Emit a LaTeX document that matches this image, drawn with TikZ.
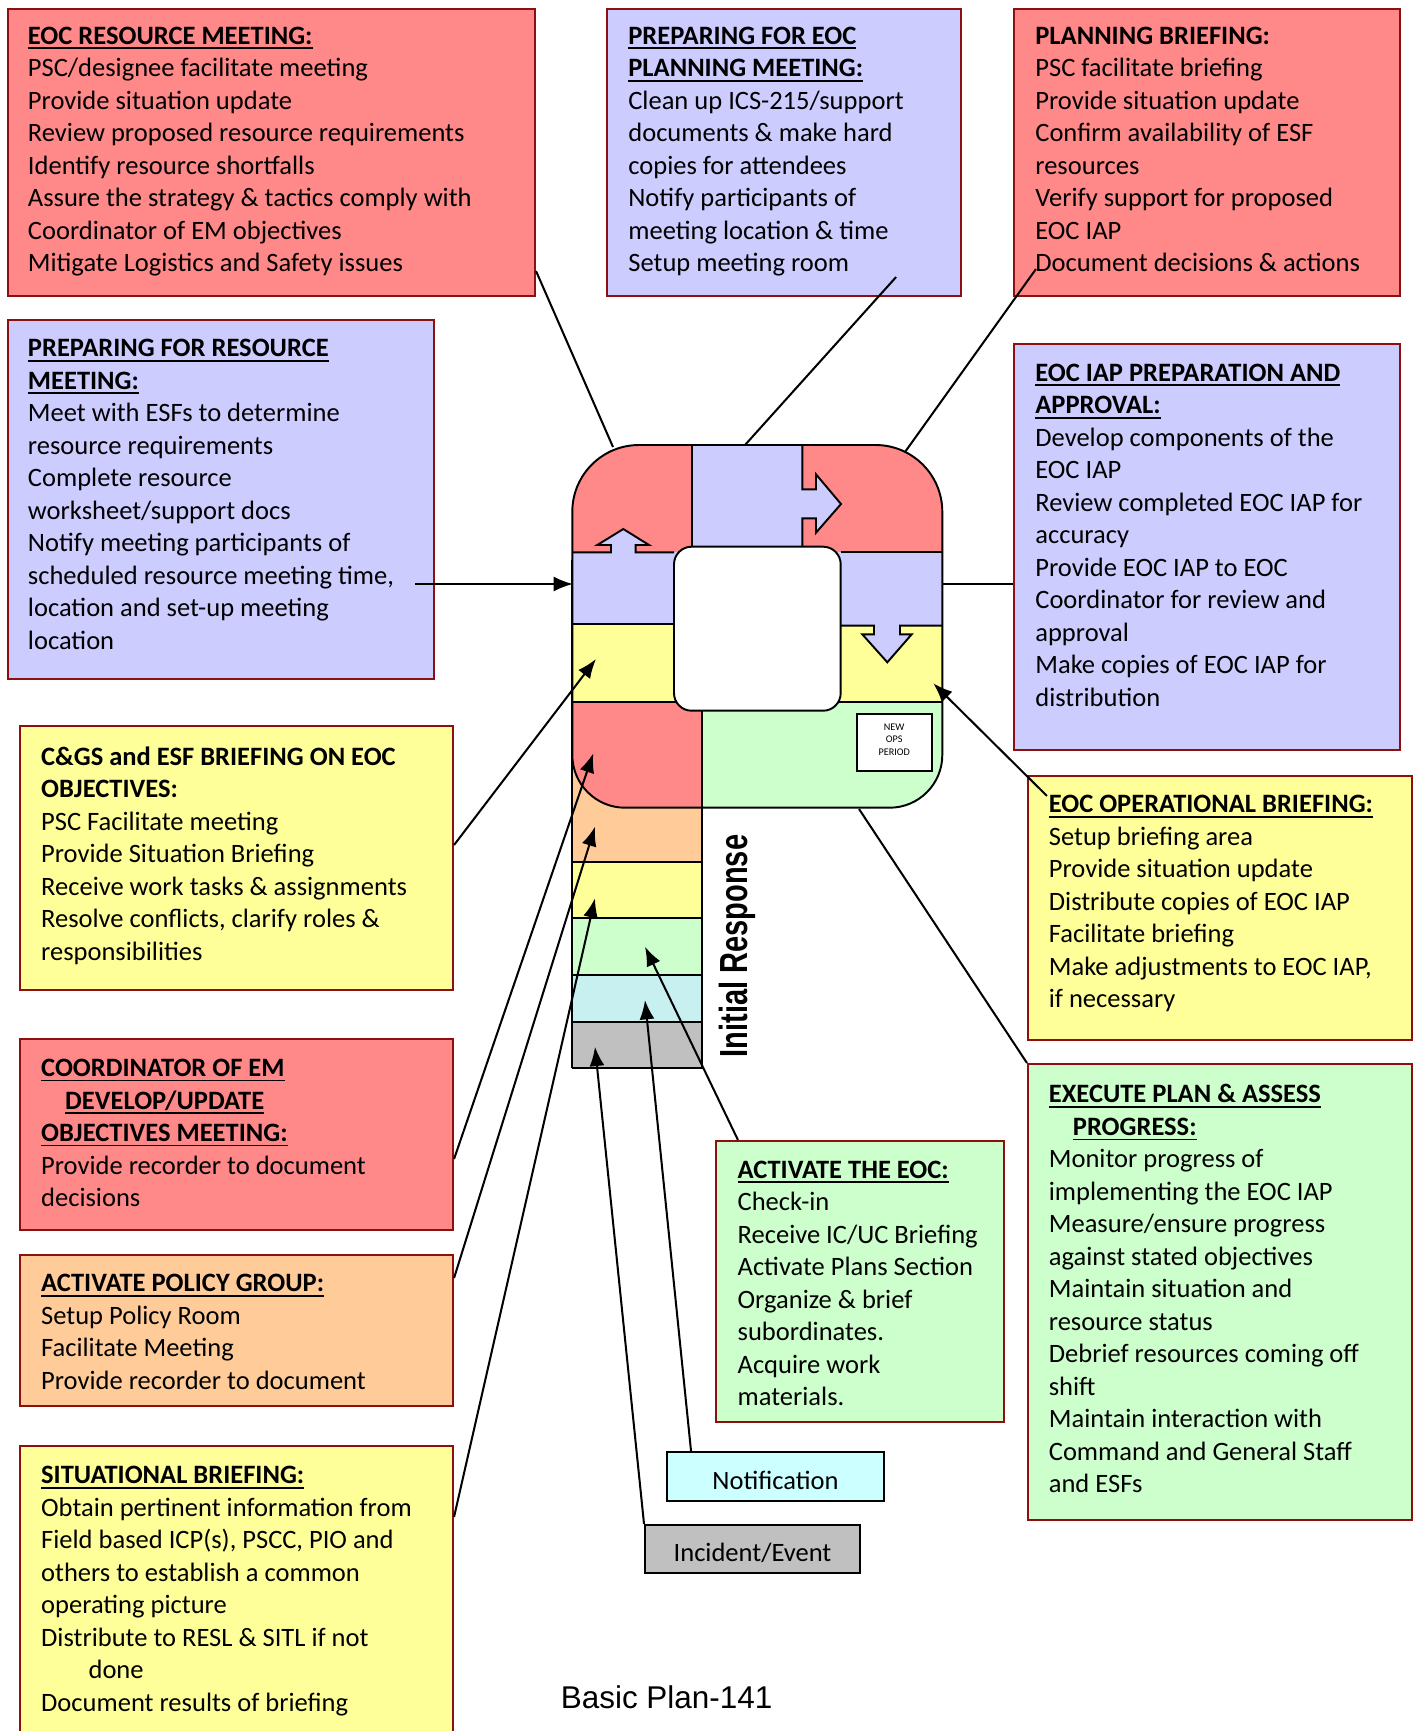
\documentclass[tikz,border=0pt]{standalone}
\usepackage{fontspec}
\setmainfont{Carlito}
\newfontfamily\arialfont{Liberation Sans}
\usetikzlibrary{
  arrows.meta,
  calc,
  fit
}
\definecolor{boxred}{RGB}{255,136,136}
\definecolor{boxblue}{RGB}{204,204,255}
\definecolor{boxyellow}{RGB}{255,255,153}
\definecolor{boxpeach}{RGB}{255,204,153}
\definecolor{boxgreen}{RGB}{204,255,204}
\definecolor{boxcyan}{RGB}{204,255,255}
\definecolor{stripecyan}{RGB}{200,240,240}
\definecolor{boxgray}{RGB}{192,192,192}
\definecolor{edgered}{RGB}{140,16,16}
\tikzset{
  >={Latex[length=11pt,width=8.5pt]},
  x = 0.02cm, y = -0.02cm,
  box/.style = {draw=edgered, line width=1.2pt, inner sep=0pt},
  txt/.style = {anchor=north west, align=left, inner sep=0pt,
    font=\fontsize{15.1}{18.5}\selectfont},
  tag/.style = {draw, line width=1.1pt, inner sep=0pt, text height=14.6pt, text depth=0pt,
    font=\fontsize{15.1}{18.5}\selectfont},
  band/.style = {draw, line width=1.1pt},
  link/.style = {line width=1.15pt},
}
\newcommand{\hd}[1]{\textbf{\setbox0\hbox{#1}\rlap{\rule[-2.8pt]{\wd0}{1pt}}\box0}}

\begin{document}
\begin{tikzpicture}
  \useasboundingbox (0,0) rectangle (1416,1731);

  % text boxes
  \node[box, fill=boxred, fit={(8,9) (535,296)}] (resmtg) {};
  \node[box, fill=boxblue, fit={(607,9) (961,296)}] (prepplan) {};
  \node[box, fill=boxred, fit={(1014,9) (1400,296)}] (planbrief) {};
  \node[box, fill=boxblue, fit={(8,320) (434,679)}] (prepres) {};
  \node[box, fill=boxblue, fit={(1014,344) (1400,750)}] (iapprep) {};
  \node[box, fill=boxyellow, fit={(20,726) (453,990)}] (cgsbrief) {};
  \node[box, fill=boxyellow, fit={(1028,776) (1412,1040)}] (opsbrief) {};
  \node[box, fill=boxred, fit={(20,1039) (453,1230)}] (coordem) {};
  \node[box, fill=boxgreen, fit={(1028,1064) (1412,1520)}] (execplan) {};
  \node[box, fill=boxgreen, fit={(716,1141) (1004,1422)}] (acteoc) {};
  \node[box, fill=boxpeach, fit={(20,1255) (453,1406)}] (policy) {};
  \node[box, fill=boxyellow, fit={(20,1446) (453,1745)}] (sitbrief) {};

  \node[txt] (resmtg-t) at (27.6,26.5) {\hd{EOC RESOURCE MEETING:}\\
    PSC/designee facilitate meeting\\
    Provide situation update\\
    Review proposed resource requirements\\
    Identify resource shortfalls\\
    Assure the strategy \& tactics comply with\\
    Coordinator of EM objectives\\
    Mitigate Logistics and Safety issues};
  \node[txt] (prepplan-t) at (628,26.5) {\hd{PREPARING FOR EOC}\\
    \hd{PLANNING MEETING:}\\
    Clean up ICS-215/support\\
    documents \& make hard\\
    copies for attendees\\
    Notify participants of\\
    meeting location \& time\\
    Setup meeting room};
  \node[txt] (planbrief-t) at (1035,26.5) {\textbf{PLANNING BRIEFING:}\\
    PSC facilitate briefing\\
    Provide situation update\\
    Confirm availability of ESF\\
    resources\\
    Verify support for proposed\\
    EOC IAP\\
    Document decisions \& actions};
  \node[txt] (prepres-t) at (27.6,339) {\hd{PREPARING FOR RESOURCE}\\
    \hd{MEETING:}\\
    Meet with ESFs to determine\\
    resource requirements\\
    Complete resource\\
    worksheet/support docs\\
    Notify meeting participants of\\
    scheduled resource meeting time,\\
    location and set-up meeting\\
    location};
  \node[txt] (iapprep-t) at (1035,363.5) {\hd{EOC IAP PREPARATION AND}\\
    \hd{APPROVAL:}\\
    Develop components of the\\
    EOC IAP\\
    Review completed EOC IAP for\\
    accuracy\\
    Provide EOC IAP to EOC\\
    Coordinator for review and\\
    approval\\
    Make copies of EOC IAP for\\
    distribution};
  \node[txt] (cgsbrief-t) at (40.8,746.5) {\textbf{C\&GS and ESF BRIEFING ON EOC}\\
    \textbf{OBJECTIVES:}\\
    PSC Facilitate meeting\\
    Provide Situation Briefing\\
    Receive work tasks \& assignments\\
    Resolve conflicts, clarify roles \&\\
    responsibilities};
  \node[txt] (opsbrief-t) at (1048.5,795) {\hd{EOC OPERATIONAL BRIEFING:}\\
    Setup briefing area\\
    Provide situation update\\
    Distribute copies of EOC IAP\\
    Facilitate briefing\\
    Make adjustments to EOC IAP,\\
    if necessary};
  \node[txt] (coordem-t) at (40.8,1058.8) {\hd{COORDINATOR OF EM}\\
    \hspace*{13.7pt}\hd{DEVELOP/UPDATE}\\
    \hd{OBJECTIVES MEETING:}\\
    Provide recorder to document\\
    decisions};
  \node[txt] (execplan-t) at (1048.5,1084.2) {\hd{EXECUTE PLAN \& ASSESS}\\
    \hspace*{13.7pt}\hd{PROGRESS:}\\
    Monitor progress of\\
    implementing the EOC IAP\\
    Measure/ensure progress\\
    against stated objectives\\
    Maintain situation and\\
    resource status\\
    Debrief resources coming off\\
    shift\\
    Maintain interaction with\\
    Command and General Staff\\
    and ESFs};
  \node[txt] (acteoc-t) at (737.3,1160.3) {\hd{ACTIVATE THE EOC:}\\
    Check-in\\
    Receive IC/UC Briefing\\
    Activate Plans Section\\
    Organize \& brief\\
    subordinates.\\
    Acquire work\\
    materials.};
  \node[txt] (policy-t) at (40.8,1274) {\hd{ACTIVATE POLICY GROUP:}\\
    Setup Policy Room\\
    Facilitate Meeting\\
    Provide recorder to document};
  \node[txt] (sitbrief-t) at (40.8,1466) {\hd{SITUATIONAL BRIEFING:}\\
    Obtain pertinent information from\\
    Field based ICP(s), PSCC, PIO and\\
    others to establish a common\\
    operating picture\\
    Distribute to RESL \& SITL if not\\
    \hspace*{27pt}done\\
    Document results of briefing};

  \node[tag, fill=boxcyan, minimum width=217*0.02cm, minimum height=49*0.02cm]
    (notif) at (775.5,1476.5) {Notification};
  \node[tag, fill=boxgray, minimum width=215*0.02cm, minimum height=48*0.02cm]
    (incident) at (752.5,1549) {Incident/Event};

  % lower stripes
  \fill[boxpeach] (572.3,740) rectangle (701.7,862.3);
  \foreach \ya/\yb/\col in {862.3/918.3/boxyellow, 918.3/975/boxgreen,
      975/1022.3/stripecyan, 1022.3/1068.3/boxgray}
    \fill[\col] (572.3,\ya) rectangle (701.7,\yb);

  % cycle fields
  \begin{scope}
    \clip (572.3,600) [rounded corners=38pt] -- (572.3,445) -- (942.3,445)
      -- (942.3,600) [rounded corners=30pt] -- (942.3,807.7) -- (572.3,807.7) -- cycle;
    \fill[boxred] (572.3,445) rectangle (692.3,552.3);
    \fill[boxblue] (692.3,445) rectangle (802.3,552.3);
    \fill[boxred] (802.3,445) rectangle (942.3,552.3);
    \fill[boxblue] (572.3,552.3) rectangle (942.3,625.7);
    \fill[boxyellow] (572.3,624) rectangle (674,701.7);
    \fill[boxyellow] (840.7,625.7) rectangle (942.3,701.7);
    \fill[boxred] (572.3,701.7) rectangle (701.7,807.7);
    \fill[boxgreen] (701.7,701.7) rectangle (942.3,807.7);
  \end{scope}

  \fill[boxblue] (611,552.3) -- (611,545) -- (597.3,545) -- (623.3,529)
    -- (649,545) -- (635.7,545) -- (635.7,552.3) -- cycle;
  \fill[boxblue] (800.3,489.3) -- (816,489.3) -- (816,474.3) -- (841,504)
    -- (816,532.7) -- (816,518.3) -- (800.3,518.3) -- cycle;
  \fill[boxblue] (874,625.7) -- (874,634.3) -- (862.3,634.3) -- (887.3,662.3)
    -- (911.7,634.3) -- (900,634.3) -- (900,625.7) -- cycle;

  \draw[band] (692.3,445) -- (692.3,552.3);
  \draw[band] (572.3,552.3) -- (611,552.3) -- (611,545) -- (597.3,545) -- (623.3,529)
    -- (649,545) -- (635.7,545) -- (635.7,552.3) -- (674,552.3);
  \draw[band] (802.3,445) -- (802.3,489.3) -- (816,489.3) -- (816,474.3) -- (841,504)
    -- (816,532.7) -- (816,518.3) -- (802.3,518.3) -- (802.3,552.3);
  \draw[band] (840.7,552.3) -- (942.3,552.3);
  \draw[band] (572.3,624) -- (674,624);
  \draw[band] (840.7,625.7) -- (874,625.7) -- (874,634.3) -- (862.3,634.3) -- (887.3,662.3)
    -- (911.7,634.3) -- (900,634.3) -- (900,625.7) -- (942.3,625.7);
  \draw[band] (572.3,701.7) -- (942.3,701.7);
  \draw[band] (701.7,701.7) -- (701.7,1068.3) -- (572.3,1068.3);
  \foreach \y in {862.3,918.3,975,1022.3}
    \draw[band] (572.3,\y) -- (701.7,\y);
  \draw[band] (572.3,600) [rounded corners=38pt] -- (572.3,445) -- (942.3,445)
    -- (942.3,600) [rounded corners=30pt] -- (942.3,807.7) -- (572.3,807.7) -- cycle;
  \draw[band] (572.3,560) -- (572.3,1068.3);
  \draw[band, fill=white, rounded corners=10pt] (674,546.7) rectangle (840.7,710.7);

  \node[draw, fill=white, line width=1pt, inner sep=0pt, fit={(856.7,714.3) (931.7,771)}] (newops) {};
  \node[align=center, inner sep=0pt, font=\fontsize{5.8}{7.1}\selectfont] (newops-t)
    at (894.2,739.5) {NEW\\OPS\\PERIOD};

  \node[rotate=90, inner sep=0pt, font=\arialfont\bfseries\fontsize{22.3}{24}\selectfont]
    (initresp) at (737,946) {\scalebox{0.74}[1]{Initial Response}};
  \node[inner sep=0pt, font=\arialfont\fontsize{17.9}{20}\selectfont]
    (caption) at (666.6,1697.5) {Basic Plan-141};

  % connector ends on the cycle
  \coordinate (p-tl) at (613,447);
  \coordinate (p-top) at (745,445);
  \coordinate (p-tr) at (905,452);
  \coordinate (p-left) at (573,584);
  \coordinate (p-right) at (942.3,584);
  \coordinate (p-yl) at (596,659);
  \coordinate (p-yr) at (933.3,683.3);
  \coordinate (p-red) at (593.3,753.3);
  \coordinate (p-peach) at (595,826.7);
  \coordinate (p-yel) at (595,898.3);
  \coordinate (p-green) at (645,946.7);
  \coordinate (p-cyan) at (645,1000);
  \coordinate (p-gray) at (595,1046.7);
  \coordinate (p-bot) at (859,809);

  \draw[link] ($(resmtg.south east)+(0,-26)$) -- (p-tl);
  \draw[link] ($(prepplan.south east)+(-66,-20)$) -- (p-top);
  \draw[link] ($(planbrief.south west)+(23,-28)$) -- (p-tr);
  \draw[link, ->] ($(prepres.east)+(-20,84.5)$) -- (p-left);
  \draw[link] ($(iapprep.west)+(0,37)$) -- (p-right);
  \draw[link, ->] ($(cgsbrief.east)+(0,-13)$) -- (p-yl);
  \draw[link, ->] ($(opsbrief.north west)+(20,21)$) -- (p-yr);
  \draw[link, ->] ($(coordem.east)+(0,24.5)$) -- (p-red);
  \draw[link, ->] ($(policy.east)+(0,-52.5)$) -- (p-peach);
  \draw[link, ->] ($(sitbrief.north east)+(0,72)$) -- (p-yel);
  \draw[link, ->] ($(acteoc.north west)+(23,0)$) -- (p-green);
  \draw[link, ->] ($(notif.north west)+(25,0)$) -- (p-cyan);
  \draw[link, ->] (incident.north west) -- (p-gray);
  \draw[link] (execplan.north west) -- (p-bot);
\end{tikzpicture}
\end{document}
